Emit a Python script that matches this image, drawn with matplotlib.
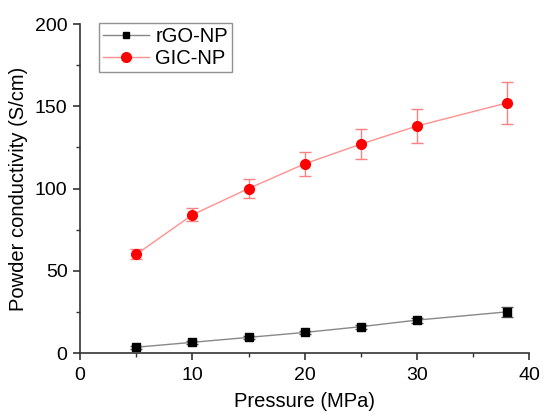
import matplotlib
matplotlib.use("Agg")
import matplotlib.pyplot as plt
from matplotlib.ticker import MultipleLocator
from matplotlib.lines import Line2D

plt.rcParams['font.family'] = ['Liberation Sans', 'DejaVu Sans']

pressure = [5, 10, 15, 20, 25, 30, 38]
rgo = [3.5, 6.5, 9.5, 12.5, 16, 20, 25]
rgo_err = [1, 1, 1, 1, 1.2, 1.5, 3]
gic = [60, 84, 100, 115, 127, 138, 152]
gic_err = [3, 4, 6, 7.5, 9, 10.5, 12.5]

fig = plt.figure(figsize=(5.45, 4.18), dpi=100)
ax = fig.add_axes([0.147, 0.1555, 0.824, 0.787])

ax.errorbar(pressure, rgo, yerr=rgo_err, color='#888888', lw=1, marker='s', ms=6,
            mfc='black', mec='black', ecolor='#555555', elinewidth=1, capsize=4)
ax.errorbar(pressure, gic, yerr=gic_err, color='#ff9090', lw=1, marker='o', ms=7,
            mfc='red', mec='red', ecolor='#ff8080', elinewidth=1, capsize=4)

ax.set_xlim(0, 40)
ax.set_ylim(0, 200)
ax.xaxis.set_major_locator(MultipleLocator(10))
ax.xaxis.set_minor_locator(MultipleLocator(5))
ax.yaxis.set_major_locator(MultipleLocator(50))
ax.yaxis.set_minor_locator(MultipleLocator(25))
ax.spines['top'].set_visible(False)
ax.spines['right'].set_visible(False)
for s in ['left', 'bottom']:
    ax.spines[s].set_color('#333333')
    ax.spines[s].set_linewidth(1.2)
ax.tick_params(which='major', direction='out', length=5, width=1.2, labelsize=14, colors='#333333',
               labelcolor='black')
ax.tick_params(axis='x', which='major', pad=5)
ax.tick_params(axis='y', which='major', pad=4)
ax.tick_params(which='minor', direction='out', length=3, width=1, colors='#333333')
ax.set_xlabel('Pressure (MPa)', fontsize=14.5, labelpad=6)
ax.set_ylabel('Powder conductivity (S/cm)', fontsize=14.5, labelpad=5)

handles = [
    Line2D([], [], color='#888888', lw=1, marker='s', ms=5, mfc='black', mec='black'),
    Line2D([], [], color='#ff9090', lw=1, marker='o', ms=7, mfc='red', mec='red'),
]
leg = ax.legend(handles, ['rGO-NP', 'GIC-NP'], loc='upper left', bbox_to_anchor=(0.042, 1.003),
                fontsize=14.5, fancybox=False, handlelength=2.3, borderpad=0.2,
                labelspacing=0.15, handletextpad=0.3, borderaxespad=0.0)
leg.get_frame().set_edgecolor('#777777')
leg.get_frame().set_linewidth(1)

fig.savefig('out.png', dpi=100)
